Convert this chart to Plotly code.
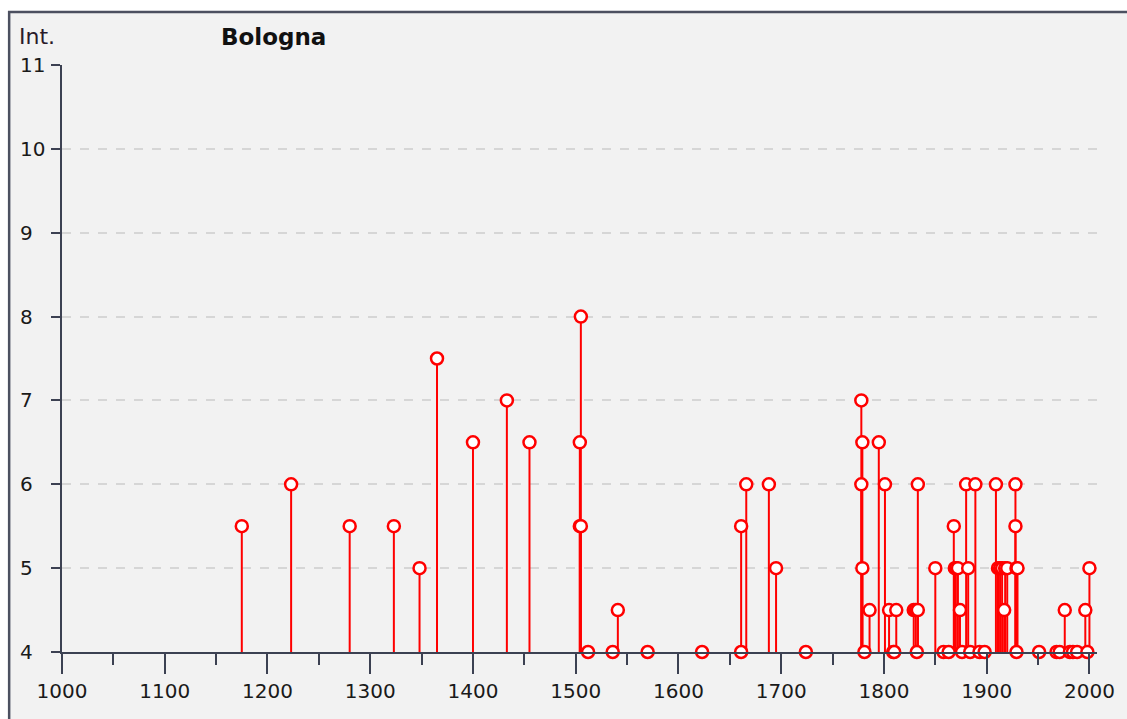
import plotly.graph_objects as go

# ---- data ----
years = [1175, 1223, 1280, 1323, 1348, 1365, 1400, 1433, 1455,
         1504, 1504, 1505, 1505, 1512, 1536, 1541, 1570, 1623,
         1661, 1661, 1666, 1688, 1695, 1724,
         1778, 1778, 1779, 1779, 1781, 1786, 1795, 1801, 1805, 1809, 1810, 1812,
         1829, 1831, 1833, 1833, 1832,
         1850, 1858, 1863, 1868, 1869, 1870, 1872, 1874, 1876, 1880, 1882, 1884, 1889, 1893, 1898,
         1909, 1911, 1913, 1915, 1917, 1918, 1920, 1928, 1928, 1929, 1929, 1930,
         1951, 1968, 1971, 1976, 1981, 1984, 1988, 1996, 1998, 2000]
intensity = [5.5, 6.0, 5.5, 5.5, 5.0, 7.5, 6.5, 7.0, 6.5,
             5.5, 6.5, 8.0, 5.5, 4.0, 4.0, 4.5, 4.0, 4.0,
             4.0, 5.5, 6.0, 6.0, 5.0, 4.0,
             7.0, 6.0, 6.5, 5.0, 4.0, 4.5, 6.5, 6.0, 4.5, 4.0, 4.0, 4.5,
             4.5, 4.5, 4.5, 6.0, 4.0,
             5.0, 4.0, 4.0, 5.5, 5.0, 5.0, 5.0, 4.5, 4.0, 6.0, 5.0, 4.0, 6.0, 4.0, 4.0,
             6.0, 5.0, 5.0, 5.0, 4.5, 5.0, 5.0, 6.0, 5.5, 5.0, 4.0, 5.0,
             4.0, 4.0, 4.0, 4.5, 4.0, 4.0, 4.0, 4.5, 4.0, 5.0]
base_level = 4
x_ticks = [1000, 1100, 1200, 1300, 1400, 1500, 1600, 1700, 1800, 1900, 2000]
y_ticks = [4, 5, 6, 7, 8, 9, 10, 11]
y_title = "Int."
chart_title = "Bologna"

# ---- figure ----
W, H = 1127, 719
ML, MR, MT, MB = 62, 27, 65, 67
PW, PH = W - ML - MR, H - MT - MB

def px_x(p):
    return (p - ML) / PW

def px_y(p):
    return (H - MB - p) / PH

stem_x, stem_y = [], []
for yr, v in zip(years, intensity):
    stem_x += [yr, yr, None]
    stem_y += [base_level, v, None]

fig = go.Figure()
fig.add_trace(go.Scatter(x=stem_x, y=stem_y, mode="lines",
                         line=dict(color="#ff0000", width=2),
                         hoverinfo="skip", showlegend=False, cliponaxis=False))
fig.add_trace(go.Scatter(x=years, y=intensity, mode="markers",
                         marker=dict(symbol="circle", size=12, color="white",
                                     line=dict(color="#ff0000", width=2.5)),
                         showlegend=False, cliponaxis=False))

axis_col = "#3c4152"
font_family = "DejaVu Sans"

fig.update_layout(
    width=W, height=H,
    margin=dict(l=ML, r=MR, t=MT, b=MB),
    paper_bgcolor="white",
    plot_bgcolor="rgba(0,0,0,0)",
    font=dict(family=font_family, size=20, color="#1a1a1a"),
    xaxis=dict(range=[1000, 1000 + PW / 1.0304], tickvals=x_ticks,
               ticktext=[str(t) for t in x_ticks],
               showgrid=False, zeroline=False,
               showline=True, linecolor=axis_col, linewidth=2,
               ticks="outside", ticklen=20, tickwidth=2, tickcolor=axis_col,
               minor=dict(dtick=50, tick0=1000, ticks="outside", ticklen=11,
                          tickwidth=2, tickcolor=axis_col, showgrid=False),
               tickfont=dict(family=font_family, size=20, color="#1a1a1a")),
    yaxis=dict(range=[4, 11], tickvals=y_ticks, showticklabels=False,
               showgrid=True, gridcolor="#d6d6d6", griddash="dash", gridwidth=1.5,
               zeroline=False,
               showline=True, linecolor=axis_col, linewidth=2,
               ticks="outside", ticklen=9, tickwidth=2, tickcolor=axis_col),
)

# panel background + border
fig.add_shape(type="rect", xref="paper", yref="paper",
              x0=px_x(9), x1=px_x(1140), y0=px_y(740), y1=px_y(12),
              fillcolor="#f2f2f2", line=dict(color="#4c5060", width=2.5),
              layer="below")

# y tick labels (left aligned)
for t in y_ticks:
    fig.add_annotation(x=0, xref="paper", y=t, yref="y", text=str(t),
                       showarrow=False, xanchor="left", xshift=18 - ML,
                       font=dict(family=font_family, size=20, color="#1a1a1a"))

fig.add_annotation(x=px_x(17), y=px_y(37), xref="paper", yref="paper",
                   text=y_title, showarrow=False, xanchor="left", yanchor="middle",
                   font=dict(family=font_family, size=22, color="#2a1a2a"))
fig.add_annotation(x=px_x(219), y=px_y(37), xref="paper", yref="paper",
                   text="<b>" + chart_title + "</b>", showarrow=False,
                   xanchor="left", yanchor="middle",
                   font=dict(family=font_family, size=23, color="#111111"))

fig.write_html("out.html", config={"displayModeBar": False},
               post_script="document.body.style.margin='0';document.body.style.overflow='hidden';")
